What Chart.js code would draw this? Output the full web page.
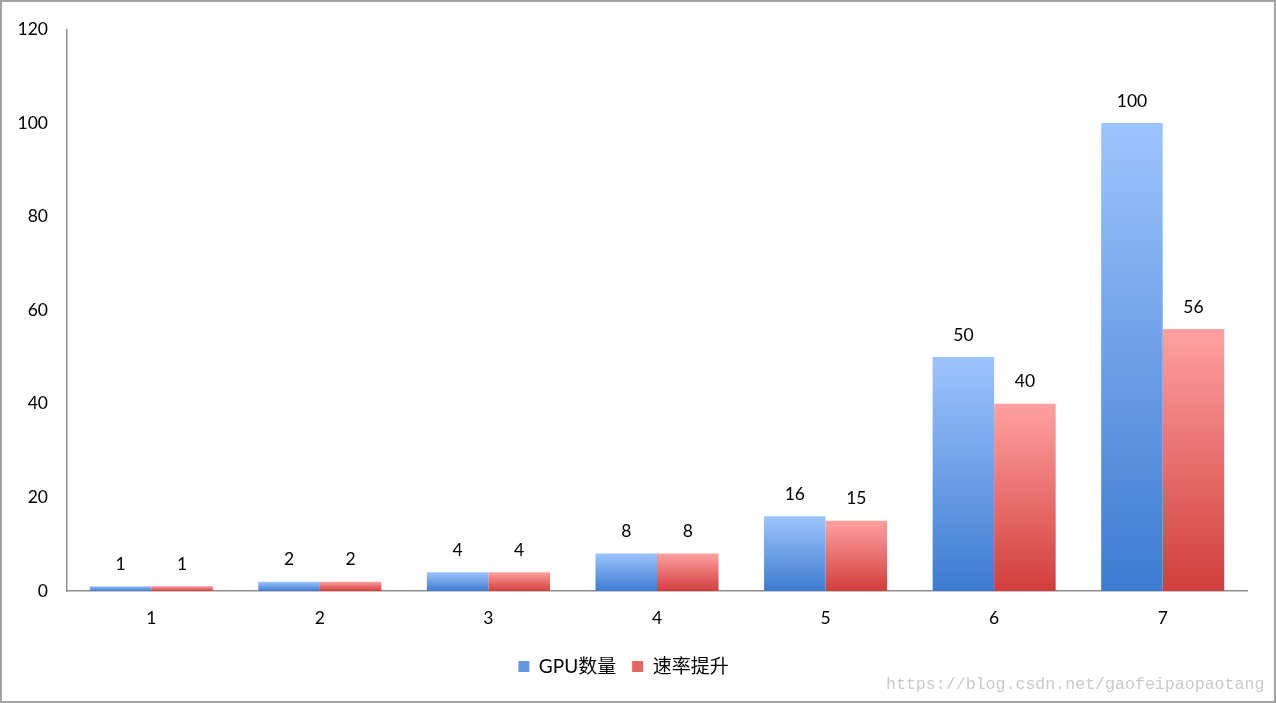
<!DOCTYPE html>
<html>
<head>
<meta charset="utf-8">
<script src="https://cdn.jsdelivr.net/npm/chart.js@4/dist/chart.umd.min.js"></script>
<style>
  html, body { margin: 0; padding: 0; background: #fff; }
  #wrap { position: relative; width: 1276px; height: 703px; }
  #frame { position: absolute; left: 0; top: 0; width: 1272px; height: 699px; border: 2px solid #a3a3a3; pointer-events: none; }
  #mark { position: absolute; left: 886px; top: 675px; font-family: "Liberation Mono", "DejaVu Sans Mono", monospace; font-size: 16.6px; color: #c9c9c9; }
</style>
</head>
<body>
<div id="wrap">
  <canvas id="c" width="1276" height="703"></canvas>
  <div id="frame"></div>
  <div id="mark">https://blog.csdn.net/gaofeipaopaotang</div>
</div>
<script>
const categories = ["1", "2", "3", "4", "5", "6", "7"];
const gpuCount = [1, 2, 4, 8, 16, 50, 100];
const speedup = [1, 2, 4, 8, 15, 40, 56];
const seriesNames = ["GPU数量", "速率提升"];
const yTicks = { min: 0, max: 120, step: 20 };

const FONT = "Lato, 'Noto Sans CJK SC', sans-serif";

function barGradient(top, bottom) {
  return function (ctx) {
    const chart = ctx.chart;
    if (!chart.chartArea) return bottom;
    const y = chart.scales.y;
    const v = ctx.raw;
    const yTop = y.getPixelForValue(v);
    const yBot = y.getPixelForValue(0);
    if (!isFinite(yTop) || yBot - yTop < 0.5) return bottom;
    const g = chart.ctx.createLinearGradient(0, yTop, 0, yBot);
    g.addColorStop(0, top);
    g.addColorStop(1, bottom);
    return g;
  };
}

const valueLabels = {
  id: 'valueLabels',
  afterDatasetsDraw(chart) {
    const ctx = chart.ctx;
    ctx.save();
    ctx.font = "17.5px " + FONT;
    ctx.fillStyle = "#000";
    ctx.textAlign = "center";
    ctx.textBaseline = "middle";
    chart.data.datasets.forEach((ds, i) => {
      const meta = chart.getDatasetMeta(i);
      meta.data.forEach((bar, j) => {
        ctx.fillText(String(ds.data[j]), bar.x, bar.y - 22);
      });
    });
    ctx.restore();
  }
};

new Chart(document.getElementById('c'), {
  type: 'bar',
  data: {
    labels: categories,
    datasets: [
      {
        label: seriesNames[0],
        data: gpuCount,
        backgroundColor: barGradient('#9ec4fd', '#3d7bd1'),
        barPercentage: 1.0,
        categoryPercentage: 0.73,
        borderWidth: 0
      },
      {
        label: seriesNames[1],
        data: speedup,
        backgroundColor: barGradient('#fea1a0', '#d13e3c'),
        barPercentage: 1.0,
        categoryPercentage: 0.73,
        borderWidth: 0
      }
    ]
  },
  options: {
    responsive: false,
    animation: false,
    devicePixelRatio: 1,
    layout: { padding: { left: 0, right: 29, top: 28, bottom: 17 } },
    plugins: {
      legend: {
        display: true,
        position: 'bottom',
        labels: {
          font: { family: FONT, size: 19 },
          color: '#000',
          boxWidth: 11,
          boxHeight: 11,
          padding: 16,
          generateLabels(chart) {
            const fills = ['#6598e4', '#e56664'];
            return chart.data.datasets.map((ds, i) => ({
              text: ds.label,
              fillStyle: fills[i],
              strokeStyle: fills[i],
              lineWidth: 0,
              hidden: false,
              datasetIndex: i,
              fontColor: '#000'
            }));
          }
        }
      },
      tooltip: { enabled: false }
    },
    scales: {
      x: {
        grid: { display: false, drawTicks: false },
        border: { display: true, color: '#8e8e8e', width: 1.5 },
        ticks: { font: { family: FONT, size: 17.5 }, color: '#000', padding: 17 },
        afterFit(scale) { scale.height = 50; }
      },
      y: {
        min: yTicks.min,
        max: yTicks.max,
        grid: { display: false, drawTicks: false },
        border: { display: true, color: '#8e8e8e', width: 1.5 },
        ticks: { stepSize: yTicks.step, font: { family: FONT, size: 17.5 }, color: '#000', padding: 19 },
        afterFit(scale) { scale.width = 67; }
      }
    }
  },
  plugins: [valueLabels]
});
</script>
</body>
</html>
